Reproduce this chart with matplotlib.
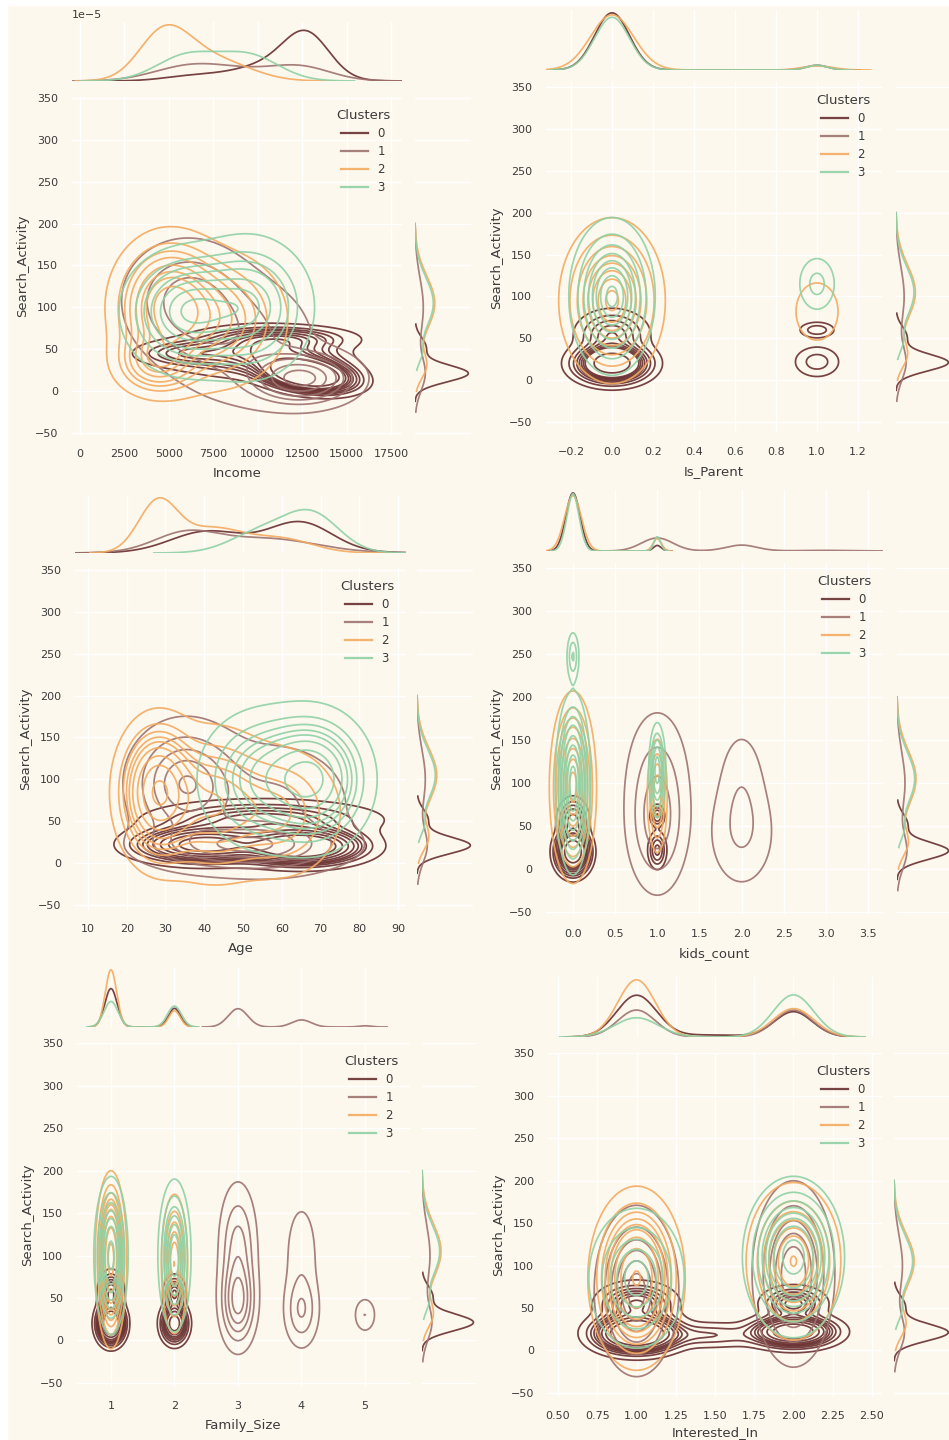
import numpy as np
import matplotlib
matplotlib.use("Agg")
import matplotlib.pyplot as plt
from matplotlib.lines import Line2D
from matplotlib.patches import Rectangle
from matplotlib.ticker import MultipleLocator

# ---------------- data ----------------
CLUSTERS = ["0", "1", "2", "3"]
CLUSTER_COLORS = ["#682F2F", "#9E726F", "#F3AB60", "#8FD1A5"]
CLUSTER_SHARE = [0.26, 0.19, 0.31, 0.24]

# Search_Activity distribution of each cluster: (weight, mean, sd) and drawn range
SEARCH_C0 = [(0.8, 21, 10), (0.2, 52, 12)]
SEARCH_C1 = [(0.4, 20, 20), (0.6, 100, 35)]
SEARCH_C2 = [(0.2, 30, 15), (0.8, 105, 32)]
SEARCH_C3 = [(0.1, 45, 12), (0.9, 105, 30)]
SEARCH_RANGES = [(-12, 80), (-25, 200), (0, 195), (25, 200)]

# joint components per feature & cluster: (weight, x mean, y mean, x sd, y sd, corr)
INCOME_C0 = [(0.50, 12800, 20, 1250, 10, -0.3), (0.20, 11500, 40, 1800, 15, -0.3),
             (0.15, 9000, 45, 2200, 14, 0.0), (0.05, 6000, 45, 1500, 8, 0.0),
             (0.10, 11500, 62, 2000, 8, 0.0)]
INCOME_C1 = [(0.35, 6000, 110, 2000, 40, 0.0), (0.35, 9000, 60, 2500, 45, 0.0),
             (0.30, 12500, 15, 1700, 18, 0.0)]
INCOME_C2 = [(0.55, 5000, 100, 1500, 40, 0.0), (0.12, 4300, 35, 1200, 20, 0.0),
             (0.33, 7800, 85, 1900, 40, 0.0)]
INCOME_C3 = [(0.50, 6000, 95, 1700, 35, 0.0), (0.50, 9500, 100, 1700, 40, 0.0)]

PARENT_C0 = [(0.78, 0, 20, 0.085, 11, 0.0), (0.17, 0, 55, 0.085, 14, 0.0),
             (0.035, 1, 22, 0.06, 10, 0.0), (0.015, 1, 60, 0.045, 5, 0.0)]
PARENT_C1 = []  # zero variance in Is_Parent -> not drawn
PARENT_C2 = [(0.95, 0, 95, 0.105, 40, 0.0), (0.05, 1, 82, 0.075, 25, 0.0)]
PARENT_C3 = [(0.95, 0, 100, 0.085, 38, 0.0), (0.05, 1, 115, 0.05, 18, 0.0)]

AGE_C0 = [(0.35, 40, 22, 9, 11, 0.0), (0.45, 65, 20, 8, 11, 0.0), (0.20, 55, 52, 15, 12, 0.0)]
AGE_C1 = [(0.40, 35, 95, 8, 40, 0.0), (0.30, 58, 70, 12, 45, 0.0), (0.30, 50, 20, 15, 18, 0.0)]
AGE_C2 = [(0.45, 28, 85, 5, 40, 0.0), (0.35, 42, 70, 8, 45, 0.0), (0.20, 60, 60, 8, 40, 0.0)]
AGE_C3 = [(0.60, 68, 100, 7, 38, 0.0), (0.40, 55, 100, 8, 40, 0.0)]

KIDS_C0 = [(0.83, 0, 20, 0.085, 11, 0.0), (0.12, 0, 55, 0.08, 12, 0.0),
           (0.035, 1, 22, 0.05, 10, 0.0), (0.015, 1, 62, 0.04, 6, 0.0)]
KIDS_C1 = [(0.38, 1, 50, 0.18, 40, 0.0), (0.27, 1, 105, 0.2, 45, 0.0),
           (0.18, 2, 40, 0.22, 35, 0.0), (0.12, 2, 95, 0.16, 40, 0.0),
           (0.05, 3, 60, 0.3, 55, 0.0)]
KIDS_C2 = [(0.90, 0, 95, 0.1, 40, 0.0), (0.10, 1, 85, 0.05, 28, 0.0)]
KIDS_C3 = [(0.86, 0, 100, 0.075, 38, 0.0), (0.02, 0, 247, 0.035, 14, 0.0),
           (0.12, 1, 115, 0.04, 22, 0.0)]

FAMILY_C0 = [(0.55, 1, 20, 0.10, 11, 0.0), (0.13, 1, 55, 0.09, 12, 0.0),
             (0.25, 2, 20, 0.10, 11, 0.0), (0.07, 2, 55, 0.08, 10, 0.0)]
FAMILY_C1 = [(0.37, 3, 45, 0.15, 28, 0.0), (0.33, 3, 110, 0.16, 40, 0.0),
             (0.15, 4, 35, 0.15, 24, 0.0), (0.12, 4, 100, 0.16, 40, 0.0),
             (0.03, 5, 30, 0.1, 12, 0.0)]
FAMILY_C2 = [(0.78, 1, 95, 0.09, 38, 0.0), (0.22, 2, 90, 0.09, 36, 0.0)]
FAMILY_C3 = [(0.55, 1, 100, 0.11, 38, 0.0), (0.45, 2, 100, 0.11, 38, 0.0)]

INTEREST_C0 = [(0.48, 1, 20, 0.13, 11, 0.0), (0.12, 1, 55, 0.12, 12, 0.0),
               (0.05, 1.45, 18, 0.22, 8, 0.0), (0.28, 2, 22, 0.13, 9, 0.0),
               (0.07, 2, 55, 0.10, 10, 0.0)]
INTEREST_C1 = [(0.50, 1, 70, 0.12, 45, 0.0), (0.50, 2, 90, 0.12, 50, 0.0)]
INTEREST_C2 = [(0.65, 1, 85, 0.12, 42, 0.0), (0.35, 2, 105, 0.13, 40, 0.0)]
INTEREST_C3 = [(0.33, 1, 85, 0.14, 38, 0.0), (0.67, 2, 110, 0.13, 38, 0.0)]

FEATURES = ["Income", "Is_Parent", "Age", "kids_count", "Family_Size", "Interested_In"]
FEATURE_COMPONENTS = [
    [INCOME_C0, INCOME_C1, INCOME_C2, INCOME_C3],
    [PARENT_C0, PARENT_C1, PARENT_C2, PARENT_C3],
    [AGE_C0, AGE_C1, AGE_C2, AGE_C3],
    [KIDS_C0, KIDS_C1, KIDS_C2, KIDS_C3],
    [FAMILY_C0, FAMILY_C1, FAMILY_C2, FAMILY_C3],
    [INTEREST_C0, INTEREST_C1, INTEREST_C2, INTEREST_C3],
]
SEARCH_PROFILES = [SEARCH_C0, SEARCH_C1, SEARCH_C2, SEARCH_C3]
Y_LABEL = "Search_Activity"

# ---------------- layout (pixels) ----------------
W_PX, H_PX = 949, 1440
BG = "#FDF8EE"
TXT = "#3b3b3b"
LAYOUT = [
    dict(rect=(72, 97, 402, 435), xlim=(-450, 18120), ylim=(-52.4, 351.2), top=(81, 22), right=(415, 56), step=2500, lpad=6),
    dict(rect=(546, 82, 882, 433), xlim=(-0.322, 1.317), ylim=(-63, 356), top=(70, 10), right=(896, 55), step=0.2, lpad=6),
    dict(rect=(75, 568, 406, 910), xlim=(6.65, 92.06), ylim=(-56, 352.4), top=(553, 495), right=(417, 56), step=10, lpad=6),
    dict(rect=(546, 563, 883, 915), xlim=(-0.32, 3.678), ylim=(-53.5, 355.8), top=(551, 490), right=(897, 54), step=0.5, lpad=6),
    dict(rect=(77, 1043, 410, 1387), xlim=(0.465, 5.709), ylim=(-55, 350.5), top=(1027, 967), right=(422, 54), step=1, lpad=6),
    dict(rect=(548, 1053, 882, 1397), xlim=(0.436, 2.564), ylim=(-55, 350.5), top=(1037, 977), right=(894, 57), step=0.25, lpad=4),
]


def px_axes(fig, l, t, r, b):
    return fig.add_axes([l / W_PX, 1 - b / H_PX, (r - l) / W_PX, (b - t) / H_PX])


def mix2d(comps, X, Y):
    Z = np.zeros_like(X)
    tot = sum(c[0] for c in comps)
    for w, mx, my, sx, sy, r in comps:
        dx = (X - mx) / sx
        dy = (Y - my) / sy
        q = (dx ** 2 - 2 * r * dx * dy + dy ** 2) / (1 - r ** 2)
        Z += w / tot * np.exp(-q / 2) / (2 * np.pi * sx * sy * np.sqrt(1 - r ** 2))
    return Z


def mix1d(parts, v):
    tot = sum(p[0] for p in parts)
    out = np.zeros_like(v)
    for w, m, s in parts:
        out += w / tot * np.exp(-0.5 * ((v - m) / s) ** 2) / (s * np.sqrt(2 * np.pi))
    return out


def quantile_to_level(arrays, iso):
    vals = np.concatenate([a.ravel() for a in arrays])
    sv = np.sort(vals)[::-1]
    norm = np.cumsum(sv) / vals.sum()
    idx = np.searchsorted(norm, 1 - np.asarray(iso))
    return np.take(sv, idx, mode="clip")


def style(ax):
    ax.set_facecolor(BG)
    for s in ax.spines.values():
        s.set_visible(False)
    ax.grid(True, color="white", linewidth=1.0)
    ax.set_axisbelow(True)
    ax.tick_params(length=0, pad=10, labelsize=8, colors=TXT)


fig = plt.figure(figsize=(W_PX / 100, H_PX / 100), dpi=100)
fig.patch.set_facecolor(BG)

ISO = np.linspace(0.05, 1, 10)
LW = 1.25
ALPHA = 0.9

for feat, comps_all, lay in zip(FEATURES, FEATURE_COMPONENTS, LAYOUT):
    l, t, r, b = lay["rect"]
    ax = px_axes(fig, l, t, r, b)
    style(ax)
    base, top = lay["top"]
    axt = px_axes(fig, l, top, r, base)
    style(axt)
    axt.grid(False, axis="y")
    rl, rw = lay["right"]
    axr = px_axes(fig, rl, t, rl + rw, b)
    style(axr)
    axr.grid(False, axis="x")

    x0, x1 = lay["xlim"]
    span = x1 - x0
    xs = np.linspace(x0 - 0.4 * span, x1 + 0.4 * span, 420)
    ys = np.linspace(-170, 470, 420)
    X, Y = np.meshgrid(xs, ys)

    dens = {}
    for k, comps in enumerate(comps_all):
        if comps:
            dens[k] = CLUSTER_SHARE[k] * mix2d(comps, X, Y)
    levels = np.unique(quantile_to_level(list(dens.values()), ISO))
    for k, Z in dens.items():
        ax.contour(X, Y, Z, levels=levels, colors=[CLUSTER_COLORS[k]],
                   linewidths=LW, alpha=ALPHA)

    # top marginal
    tmax = 0
    for k, comps in enumerate(comps_all):
        if not comps:
            continue
        lo = min(c[1] - 3.5 * c[3] for c in comps)
        hi = max(c[1] + 3.5 * c[3] for c in comps)
        xv = np.linspace(lo, hi, 600)
        dv = CLUSTER_SHARE[k] * mix1d([(c[0], c[1], c[3]) for c in comps], xv)
        tmax = max(tmax, dv.max())
        axt.plot(xv, dv, color=CLUSTER_COLORS[k], lw=LW, alpha=ALPHA)
    axt.set_xlim(x0, x1)
    axt.set_ylim(0, tmax * 1.05)
    axt.xaxis.set_major_locator(MultipleLocator(lay["step"]))
    plt.setp(axt.get_xticklabels(), visible=False)
    plt.setp(axt.get_yticklabels(), visible=False)
    axt.yaxis.get_offset_text().set_color(TXT)
    axt.yaxis.get_offset_text().set_fontsize(8)

    # right marginal
    rmax = 0
    for k, prof in enumerate(SEARCH_PROFILES):
        lo, hi = SEARCH_RANGES[k]
        yv = np.linspace(lo, hi, 600)
        dv = CLUSTER_SHARE[k] * mix1d(prof, yv)
        rmax = max(rmax, dv.max())
        axr.plot(dv, yv, color=CLUSTER_COLORS[k], lw=LW, alpha=ALPHA)
    axr.set_ylim(*lay["ylim"])
    axr.set_xlim(0, rmax * 1.05)
    axr.yaxis.set_major_locator(MultipleLocator(50))
    plt.setp(axr.get_xticklabels(), visible=False)
    plt.setp(axr.get_yticklabels(), visible=False)

    ax.set_xlim(x0, x1)
    ax.set_ylim(*lay["ylim"])
    ax.xaxis.set_major_locator(MultipleLocator(lay["step"]))
    ax.yaxis.set_major_locator(MultipleLocator(50))
    ax.set_xlabel(feat, fontsize=9.5, color=TXT, labelpad=lay["lpad"])
    ax.set_ylabel(Y_LABEL, fontsize=9.5, color=TXT, labelpad=4)

    handles = [Line2D([0], [0], color=c, lw=LW * 1.3, alpha=ALPHA) for c in CLUSTER_COLORS]
    leg = ax.legend(handles, CLUSTERS, title="Clusters", loc="upper right",
                    frameon=False, fontsize=8.5, title_fontsize=9.5,
                    labelspacing=0.42, handlelength=2.3, borderaxespad=0.6)
    for txt in leg.get_texts():
        txt.set_color(TXT)
    leg.get_title().set_color(TXT)

# white borders of the composite
fig.add_artist(Rectangle((0, 0), 7 / W_PX, 1, transform=fig.transFigure, color="white", zorder=10))
fig.add_artist(Rectangle((0, 1 - 5 / H_PX), 1, 5 / H_PX, transform=fig.transFigure, color="white", zorder=10))

fig.savefig("out.png", dpi=100, facecolor=BG)
